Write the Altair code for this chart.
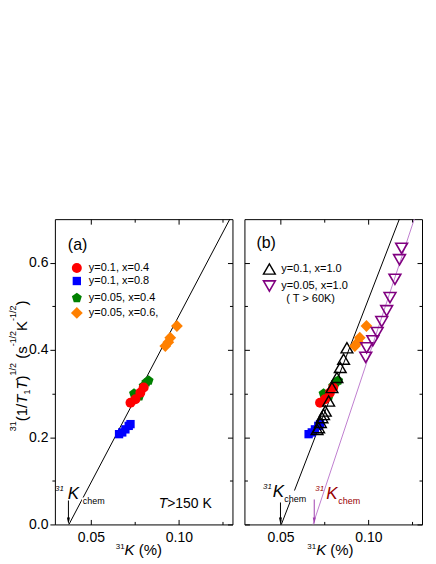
import altair as alt
import pandas as pd

FONT = "Liberation Sans"

# ---------------- data ----------------
red_K = [0.0725, 0.0753, 0.0781, 0.0800]
red_y = [0.279, 0.287, 0.302, 0.314]
blue_K = [0.0660, 0.0678, 0.0696, 0.0715, 0.0725]
blue_y = [0.207, 0.211, 0.218, 0.226, 0.230]
green_K = [0.0745, 0.0775, 0.0800, 0.0815, 0.0828]
green_y = [0.300, 0.294, 0.318, 0.326, 0.330]
orange_K = [0.0923, 0.0940, 0.0951, 0.0989]
orange_y = [0.409, 0.418, 0.428, 0.455]
black_K = [0.0708, 0.0717, 0.0727, 0.0736, 0.0745, 0.0755, 0.0774, 0.0793, 0.0821, 0.0840, 0.0859, 0.0878]
black_y = [0.218, 0.222, 0.234, 0.245, 0.252, 0.260, 0.283, 0.314, 0.337, 0.360, 0.379, 0.405]
purple_K = [0.0985, 0.0990, 0.1025, 0.1050, 0.1076, 0.1104, 0.1123, 0.1151, 0.1177, 0.1189]
purple_y = [0.383, 0.405, 0.421, 0.440, 0.465, 0.490, 0.520, 0.562, 0.607, 0.633]

fit_a_K = [0.0375, 0.1290]
fit_a_y = [0.0, 0.70]
fit_b_K = [0.0505, 0.1176]
fit_b_y = [0.0, 0.70]
fit_p_K = [0.0685, 0.1261]
fit_p_y = [0.0, 0.70]
kchem_a = 0.0372
kchem_b = 0.0500
kchem_p = 0.0692

x_major = [0.05, 0.10]
x_minor = [0.075, 0.125]
y_major = [0.0, 0.2, 0.4, 0.6]
y_minor = [0.1, 0.3, 0.5]

legend_a = ["y=0.1, x=0.4", "y=0.1, x=0.8", "y=0.05, x=0.4", "y=0.05, x=0.6,"]
legend_b = ["y=0.1,  x=1.0", "y=0.05, x=1.0", "( T > 60K)"]

# axis titles as (text, level, italic) pieces
X_TITLE = [("31", "sup", False), ("K", "main", True), (" (%)", "main", False)]
Y_TITLE = [("31", "sup", False), ("(1/", "main", False), ("T", "main", True),
           ("1", "sub", False), ("T", "main", True), (")", "main", False),
           ("1/2", "sup", False), (" (s", "main", False), ("-1/2", "sup", False),
           ("K", "main", False), ("-1/2", "sup", False), (")", "main", False)]

# ---------------- helpers ----------------
W, H = 178, 306
xsc = alt.Scale(domain=[0.0295, 0.1305], nice=False, zero=False)
ysc = alt.Scale(domain=[0.0, 0.70], nice=False, zero=False)
one = pd.DataFrame({"a": [0]})
PENTAGON = "M0,-1 L0.951,-0.309 L0.588,0.809 L-0.588,0.809 L-0.951,-0.309 Z"
ARROW = "M0,0 L-0.6,-2.8 L0.6,-2.8 Z"

# Arial / Liberation Sans advance widths (em)
AW = {"0": 0.556, "1": 0.556, "2": 0.556, "3": 0.556, "/": 0.278, "(": 0.333,
      ")": 0.333, "T": 0.611, "s": 0.5, "K": 0.667, "-": 0.333, " ": 0.278, "%": 0.889}


def tw(s, size):
    return sum(AW[c] for c in s) * size


def df(K, y):
    return pd.DataFrame({"K": K, "y": y})


def enc(ch, xaxis=None, yaxis=None):
    return ch.encode(
        x=alt.X("K:Q", scale=xsc, axis=xaxis),
        y=alt.Y("y:Q", scale=ysc, axis=yaxis),
    )


def pmark(shape, size, fill=None, stroke=None, sw=1.5):
    if fill is not None:
        return dict(shape=shape, size=size, filled=True, color=fill, opacity=1, strokeWidth=0)
    return dict(shape=shape, size=size, filled=False, color=stroke, opacity=1, strokeWidth=sw)


def points(K, y, **kw):
    return enc(alt.Chart(df(K, y)).mark_point(**pmark(**kw)))


def line(K, y, color="black", sw=1.0):
    return enc(alt.Chart(df(K, y)).mark_line(color=color, strokeWidth=sw))


def txt(s, x, y, size=11, color="black", align="left", style="normal",
        baseline="middle", angle=0):
    return alt.Chart(one).mark_text(
        text=s, font=FONT, fontSize=size, color=color, align=align,
        baseline=baseline, fontStyle=style, angle=angle,
    ).encode(x=alt.value(x), y=alt.value(y))


def lmark(x, y, **kw):
    return alt.Chart(one).mark_point(**pmark(**kw)).encode(x=alt.value(x), y=alt.value(y))


def whitebox(x1, x2, y1, y2):
    return alt.Chart(one).mark_rect(color="white").encode(
        x=alt.value(x1), x2=alt.value(x2), y=alt.value(y1), y2=alt.value(y2))


def arrow(k, ytop, color):
    d = df([k], [0.0])
    rule = alt.Chart(d).mark_rule(color=color, strokeWidth=1).encode(
        x=alt.X("K:Q", scale=xsc, axis=None), y=alt.value(ytop), y2=alt.value(H - 5))
    head = enc(alt.Chart(d).mark_point(shape=ARROW, size=25, filled=True,
                                       color=color, opacity=1, strokeWidth=0))
    return [rule, head]


def kchem(x31, xK, xc, yK, color):
    return [
        txt("31", x31, yK - 6, size=8, color=color, style="italic", align="right"),
        txt("K", xK, yK, size=17, color=color, style="italic"),
        txt("chem", xc, yK + 7, size=9, color=color),
    ]


MAIN, SUP = 15, 9


def split_lead(s):
    body = s.lstrip()
    return s[: len(s) - len(body)], body


def x_title(x0, ybase):
    out, x = [], x0
    for s, lvl, it in X_TITLE:
        size = MAIN if lvl == "main" else SUP - 1
        y = ybase if lvl == "main" else ybase - 6
        lead, body = split_lead(s)
        out.append(txt(body, x + tw(lead, size), y, size=size,
                       style="italic" if it else "normal", baseline="alphabetic"))
        x += tw(s, size)
    return out


def y_title(ycenter, xmain, xsup, xsub):
    total = sum(tw(s, MAIN if lvl == "main" else SUP) for s, lvl, _ in Y_TITLE)
    out, y = [], ycenter + total / 2
    for s, lvl, it in Y_TITLE:
        size = MAIN if lvl == "main" else SUP
        x = {"main": xmain, "sup": xsup, "sub": xsub}[lvl]
        lead, body = split_lead(s)
        out.append(txt(body, x, y - tw(lead, size), size=size,
                       style="italic" if it else "normal",
                       baseline="alphabetic", angle=270))
        y -= tw(s, size)
    return out


anchor = df([0.05], [0.1])


def tick_axis(orient, values, size, offset):
    ax = alt.Axis(orient=orient, values=values, labels=False, domain=False, ticks=True,
                  tickSize=size, offset=offset, tickColor="black", tickWidth=1,
                  title=None, grid=False)
    ch = alt.Chart(anchor).mark_point(opacity=0)
    if orient in ("bottom", "top"):
        return enc(ch, xaxis=ax)
    return enc(ch, yaxis=ax)


def frame_ticks(left_inward=True):
    layers = [
        tick_axis("bottom", x_major, 5, -5),
        tick_axis("bottom", x_minor, 3, -3),
        tick_axis("top", x_major, 5, -5),
        tick_axis("top", x_minor, 3, -3),
        tick_axis("right", y_major, 5, -5),
        tick_axis("right", y_minor, 3, -3),
    ]
    if left_inward:
        layers += [tick_axis("left", y_major, 5, -5), tick_axis("left", y_minor, 3, -3)]
    else:
        layers += [tick_axis("left", y_minor, 3, 0)]
    return layers


def xlabel_layer():
    ax = alt.Axis(orient="bottom", values=x_major, format=".2f", ticks=False, domain=False,
                  labelPadding=6, title=None, grid=False)
    return enc(alt.Chart(anchor).mark_point(opacity=0), xaxis=ax)


def ylabel_layer():
    ax = alt.Axis(orient="left", values=y_major, format=".1f", ticks=True, tickSize=5,
                  tickColor="black", domain=False, labelPadding=2, title=None, grid=False)
    return enc(alt.Chart(anchor).mark_point(opacity=0), yaxis=ax)


RED, BLUE, GREEN, ORANGE = "#ff0000", "#0000ff", "#008000", "#ff8000"
PURPLE, PLINE, DARKRED = "#800080", "#c080d0", "#990000"

filled_sets = [
    (green_K, green_y, dict(shape=PENTAGON, size=110, fill=GREEN)),
    (red_K, red_y, dict(shape="circle", size=100, fill=RED)),
    (blue_K, blue_y, dict(shape="square", size=70, fill=BLUE)),
]

# ---------------- panel (a) ----------------
a_layers = [line(fit_a_K, fit_a_y), whitebox(27, 48, 279, 289)]
a_layers += [points(K, y, **kw) for K, y, kw in filled_sets]
a_layers += [points(orange_K, orange_y, shape="diamond", size=140, fill=ORANGE)]
a_layers += arrow(kchem_a, 282, "black")
a_layers += kchem(9, 13, 28, 276, "black")
a_layers += [
    txt("(a)", 13, 26, size=16),
    lmark(22, 49, shape="circle", size=100, fill=RED),
    lmark(22, 62, shape="square", size=70, fill=BLUE),
    lmark(22, 79, shape=PENTAGON, size=110, fill=GREEN),
    lmark(22, 94, shape="diamond", size=140, fill=ORANGE),
    txt(legend_a[0], 34, 49),
    txt(legend_a[1], 34, 62),
    txt(legend_a[2], 34, 79),
    txt(legend_a[3], 34, 94),
    txt("T", 104, 286, size=14, style="italic"),
    txt(">150 K", 104 + tw("T", 14), 286, size=14),
]
a_layers += x_title(61, 337)
a_layers += y_title(147, -28, -39, -25)
a_layers += [xlabel_layer(), ylabel_layer()] + frame_ticks(left_inward=False)

panel_a = alt.layer(*a_layers).resolve_axis(x="independent", y="independent").properties(
    width=W, height=H)

# ---------------- panel (b) ----------------
b_layers = [
    line(fit_p_K, fit_p_y, color=PLINE, sw=1.0),
    line(fit_b_K, fit_b_y),
    whitebox(39, 58, 272, 283),
]
b_layers += [points(K, y, **kw) for K, y, kw in filled_sets]
b_layers += [points(black_K, black_y, shape="triangle-up", size=140, stroke="black", sw=1.4)]
b_layers += [points(orange_K, orange_y, shape="diamond", size=140, fill=ORANGE)]
b_layers += [points(purple_K, purple_y, shape="triangle-down", size=140, stroke=PURPLE, sw=1.6)]
b_layers += arrow(kchem_b, 284, "black")
b_layers += arrow(kchem_p, 281, "#a040b0")
b_layers += kchem(27.5, 28.5, 40, 274, "black")
b_layers += kchem(80, 82, 94, 276, DARKRED)
b_layers += [
    txt("(b)", 12, 24, size=16),
    lmark(25, 50, shape="triangle-up", size=140, stroke="black", sw=1.4),
    lmark(25, 67, shape="triangle-down", size=140, stroke=PURPLE, sw=1.6),
    txt(legend_b[0], 37, 50),
    txt(legend_b[1], 37, 67),
    txt(legend_b[2], 42, 80),
]
b_layers += x_title(63, 337)
b_layers += [xlabel_layer()] + frame_ticks(left_inward=True)

panel_b = alt.layer(*b_layers).resolve_axis(x="independent", y="independent").properties(
    width=W, height=H)

chart = alt.hconcat(panel_a, panel_b, spacing=10).properties(
    padding={"left": 0, "top": 208, "right": 5, "bottom": 0}
).configure_view(stroke="black", strokeWidth=1).configure_axis(
    labelFont=FONT, titleFont=FONT, labelFontSize=14, titleFontSize=14,
    titleFontWeight="normal", labelColor="black", titleColor="black",
)

chart.save("out.html", embed_options={"renderer": "svg", "actions": False})
